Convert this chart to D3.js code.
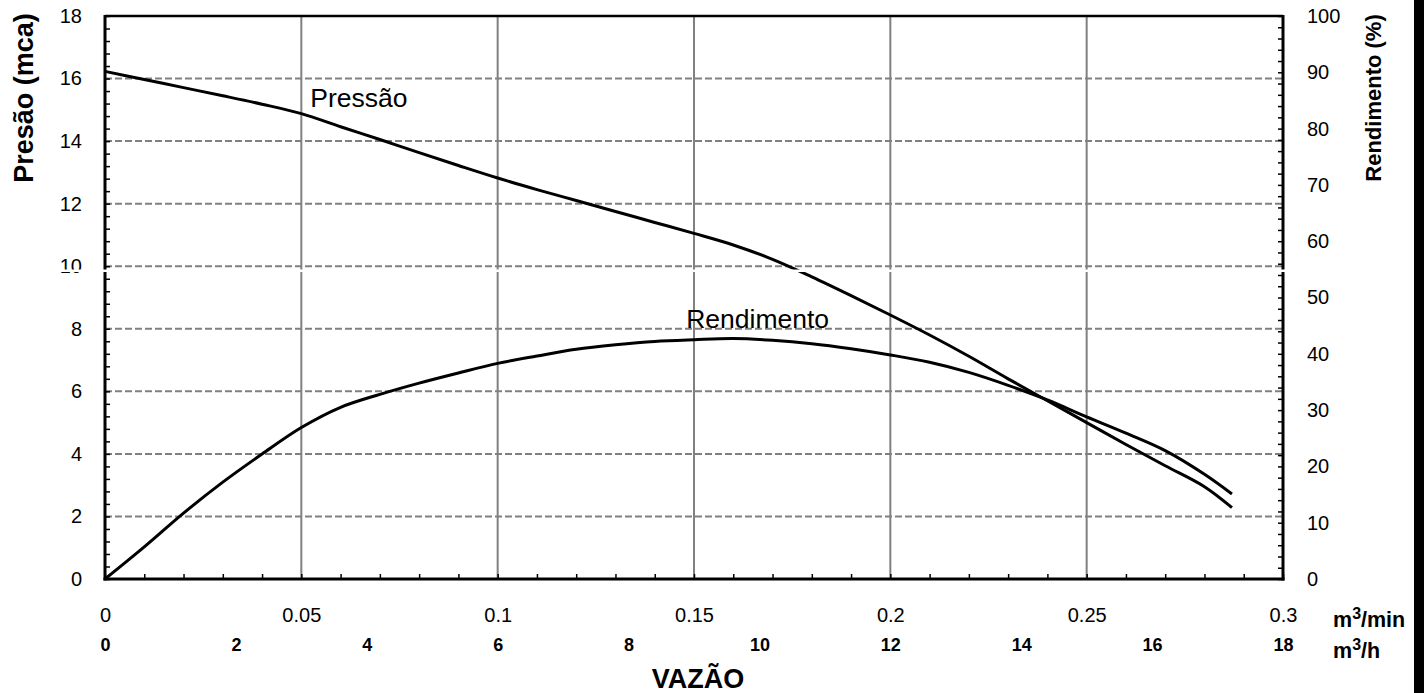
<!DOCTYPE html>
<html>
<head>
<meta charset="utf-8">
<script src="https://cdn.jsdelivr.net/npm/d3@7"></script>
<style>
body{margin:0;background:#fff;}
text{font-family:Arial,"Liberation Sans",sans-serif;}
</style>
</head>
<body>
<script>
// vazao in m3/min
var vazao = [0,0.01,0.02,0.03,0.04,0.05,0.06,0.07,0.08,0.09,0.10,0.11,0.12,0.13,0.14,0.15,
             0.16,0.17,0.18,0.19,0.20,0.21,0.22,0.23,0.24,0.25,0.26,0.27,0.28,0.287];
// pressao in mca (left axis)
var pressao = [16.23,15.97,15.71,15.45,15.18,14.88,14.46,14.05,13.63,13.22,12.82,12.45,12.10,11.75,11.40,11.05,
               10.68,10.22,9.66,9.06,8.44,7.80,7.12,6.40,5.70,5.00,4.30,3.62,2.95,2.28];
// rendimento in % (right axis)
var rendimento = [0,5.7,11.7,17.2,22.2,26.9,30.5,32.8,34.8,36.6,38.3,39.6,40.8,41.6,42.2,42.5,
                  42.7,42.4,41.8,40.9,39.8,38.5,36.7,34.4,31.8,28.8,25.9,22.8,18.6,15.1];

var xTicks = [0,0.05,0.1,0.15,0.2,0.25,0.3];
var xTicksH = [0,2,4,6,8,10,12,14,16,18];
var yLeftTicks = [0,2,4,6,8,10,12,14,16,18];
var yRightTicks = [0,10,20,30,40,50,60,70,80,90,100];

var W = 1424, H = 693;
var margin = {top:16, right:141, bottom:114, left:105};
var width = W - margin.left - margin.right;
var height = H - margin.top - margin.bottom;

var x = d3.scaleLinear().domain([0,0.3]).range([0,width]);
var xh = d3.scaleLinear().domain([0,18]).range([0,width]);
var yL = d3.scaleLinear().domain([0,18]).range([height,0]);
var yR = d3.scaleLinear().domain([0,100]).range([height,0]);

var svg = d3.select("body").append("svg")
    .attr("width",W).attr("height",H);

var g = svg.append("g").attr("transform","translate("+margin.left+","+margin.top+")");

// grid
g.selectAll(".vgrid").data(xTicks.slice(1,-1)).enter().append("line")
    .attr("x1",function(d){return x(d);}).attr("x2",function(d){return x(d);})
    .attr("y1",0).attr("y2",height)
    .attr("stroke","#808080").attr("stroke-width",2);

g.selectAll(".hgrid").data(yLeftTicks.slice(1,-1)).enter().append("line")
    .attr("x1",0).attr("x2",width)
    .attr("y1",function(d){return yL(d);}).attr("y2",function(d){return yL(d);})
    .attr("stroke","#808080").attr("stroke-width",2)
    .attr("stroke-dasharray","7,3");

// curves
var pts = vazao.map(function(v,i){return {q:v,p:pressao[i],r:rendimento[i]};});

var linePress = d3.line().x(function(d){return x(d.q);}).y(function(d){return yL(d.p);})
    .curve(d3.curveCatmullRom.alpha(0.5));
var lineRend = d3.line().x(function(d){return x(d.q);}).y(function(d){return yR(d.r);})
    .curve(d3.curveCatmullRom.alpha(0.5));

g.append("path").datum(pts).attr("d",linePress)
    .attr("fill","none").attr("stroke","#000").attr("stroke-width",3);
g.append("path").datum(pts).attr("d",lineRend)
    .attr("fill","none").attr("stroke","#000").attr("stroke-width",3);

g.append("text").attr("x",x(0.0523)).attr("y",yL(15.09))
    .attr("font-size",26.5).text("Pressão");
g.append("text").attr("x",x(0.148)).attr("y",yR(44.6))
    .attr("font-size",26.5).text("Rendimento");

// minor ticks (inside)
function styleTicks(sel){
    sel.select(".domain").remove();
    sel.selectAll("line").attr("stroke","#000").attr("stroke-width",1.5);
}
g.append("g").call(d3.axisLeft(yL).tickValues(d3.range(0,18.01,0.4)).tickSize(-5).tickFormat(""))
    .call(styleTicks);
g.append("g").attr("transform","translate("+width+",0)")
    .call(d3.axisRight(yR).tickValues(d3.range(0,100.1,2)).tickSize(-5).tickFormat(""))
    .call(styleTicks);
g.append("g").attr("transform","translate(0,"+height+")")
    .call(d3.axisBottom(x).tickValues(d3.range(0,0.3001,0.01)).tickSize(-5).tickFormat(""))
    .call(styleTicks);

// frame
g.append("line").attr("x1",0).attr("x2",width).attr("y1",0).attr("y2",0)
    .attr("stroke","#000").attr("stroke-width",2.5);
g.append("line").attr("x1",0).attr("x2",0).attr("y1",-1).attr("y2",height+1.5)
    .attr("stroke","#000").attr("stroke-width",3);
g.append("line").attr("x1",width).attr("x2",width).attr("y1",-1).attr("y2",height+1.5)
    .attr("stroke","#000").attr("stroke-width",3);
g.append("line").attr("x1",-1.5).attr("x2",width+1.5).attr("y1",height).attr("y2",height)
    .attr("stroke","#000").attr("stroke-width",3);

// tick labels
function styleLabels(size,bold){
    return function(sel){
        sel.select(".domain").remove();
        sel.attr("font-family",null).attr("font-size",null);
        sel.selectAll("text").attr("font-size",size).attr("fill","#000")
            .attr("font-weight",bold ? "bold" : null);
    };
}
g.append("g").call(d3.axisLeft(yL).tickValues(yLeftTicks).tickSize(0).tickPadding(23))
    .call(styleLabels(20,false));
g.append("g").attr("transform","translate("+width+",0)")
    .call(d3.axisRight(yR).tickValues(yRightTicks).tickSize(0).tickPadding(24))
    .call(styleLabels(20,false));
g.append("g").attr("transform","translate(0,"+height+")")
    .call(d3.axisBottom(x).tickValues(xTicks).tickSize(0).tickPadding(29).tickFormat(function(d){return String(d);}))
    .call(styleLabels(20,false));
g.append("g").attr("transform","translate(0,"+height+")")
    .call(d3.axisBottom(xh).tickValues(xTicksH).tickSize(0).tickPadding(59))
    .call(styleLabels(18,true));

// units
var u1 = svg.append("text").attr("x",1333).attr("y",627).attr("font-size",21.5).attr("font-weight","bold");
u1.append("tspan").text("m");
u1.append("tspan").attr("font-size",16).attr("dy",-8).text("3");
u1.append("tspan").attr("dy",8).text("/min");
var u2 = svg.append("text").attr("x",1333).attr("y",658).attr("font-size",21.5).attr("font-weight","bold");
u2.append("tspan").text("m");
u2.append("tspan").attr("font-size",16).attr("dy",-8).text("3");
u2.append("tspan").attr("dy",8).text("/h");

// axis titles
svg.append("text").attr("transform","translate(33,98) rotate(-90)")
    .attr("text-anchor","middle").attr("font-size",27).attr("font-weight","bold")
    .text("Presão (mca)");
svg.append("text").attr("transform","translate(1381,98) rotate(-90)")
    .attr("text-anchor","middle").attr("font-size",22).attr("font-weight","bold")
    .text("Rendimento (%)");
svg.append("text").attr("x",698).attr("y",688)
    .attr("text-anchor","middle").attr("font-size",27).attr("font-weight","bold")
    .text("VAZÃO");

// white break line across the chart
svg.append("rect").attr("x",0).attr("y",269.5).attr("width",1414).attr("height",2.5).attr("fill","#fff");

// right edge bar
svg.append("rect").attr("x",1414).attr("y",0).attr("width",10).attr("height",H).attr("fill","#000");
</script>
</body>
</html>
